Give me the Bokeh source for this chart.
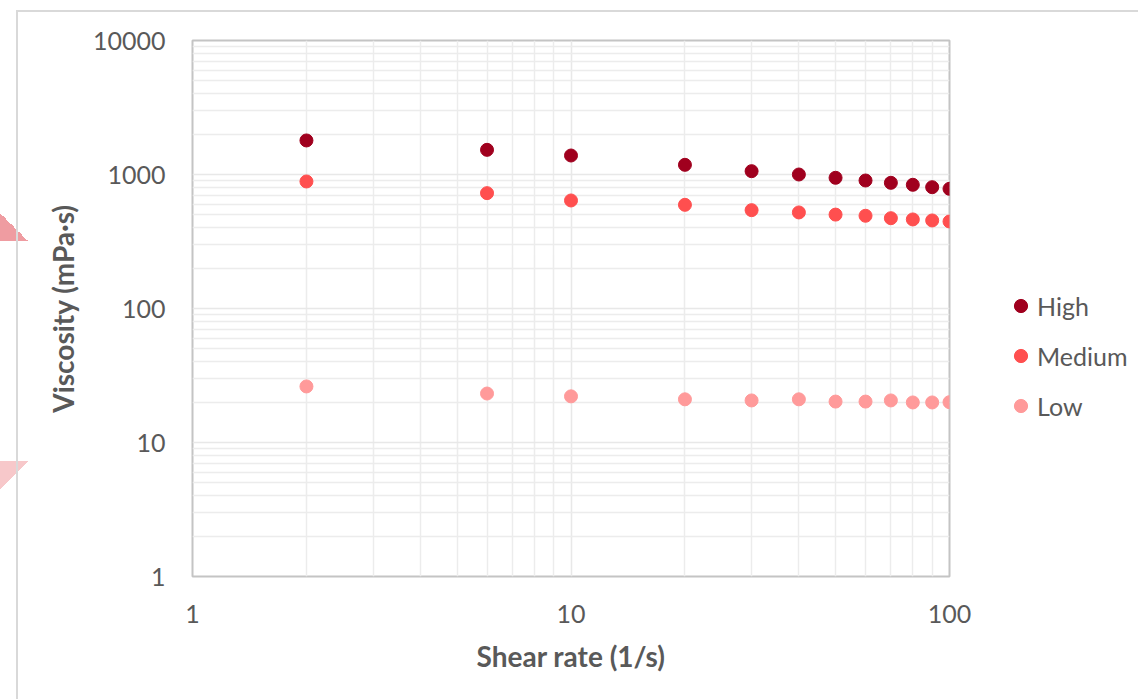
from bokeh.plotting import figure
from bokeh.layouts import row
from bokeh.models import (Range1d, FixedTicker, PrintfTickFormatter, Legend, LegendItem,
                          ColumnDataSource)
from bokeh.embed import file_html
from bokeh.resources import INLINE

shear_rate = [2, 6, 10, 20, 30, 40, 50, 60, 70, 80, 90, 100]
high = [1795, 1528, 1386, 1181, 1059, 1000, 945, 902, 867, 838, 804, 782]
medium = [887, 726, 640, 594, 542, 521, 502, 492, 472, 462, 454, 446]
low = [26.2, 23.2, 22.1, 21.0, 20.6, 21.0, 20.2, 20.2, 20.6, 19.9, 19.9, 20.0]
series_names = ["High", "Medium", "Low"]
series_colors = ["#A0001E", "#FF4F4F", "#FF9A9A"]
y_major = [1, 10, 100, 1000, 10000]
x_major = [1, 10, 100]

TXT = "#595959"
FONT = "Lato"
H = 699

deco_main = {
    "background-image": ", ".join([
        "linear-gradient(#d9d9d9, #d9d9d9)",
        "linear-gradient(#d9d9d9, #d9d9d9)",
        "linear-gradient(to bottom left, rgba(255,255,255,0) 50%, #ef9ca1 50%)",
        "linear-gradient(to top left, rgba(255,255,255,0) 50%, #f7c8ca 50%)",
    ]),
    "background-size": "2px 700px, 1200px 2px, 28px 28px, 28px 29px",
    "background-position": "16px 10px, 16px 10px, 0px 213px, 0px 461px",
    "background-repeat": "no-repeat",
    "background-color": "white",
}
deco_leg = {
    "background-image": "linear-gradient(#d9d9d9, #d9d9d9)",
    "background-size": "400px 2px",
    "background-position": "0px 10px",
    "background-repeat": "no-repeat",
    "background-color": "white",
}

p = figure(width=980, height=H, x_axis_type="log", y_axis_type="log",
           x_range=Range1d(1, 100), y_range=Range1d(1, 10000),
           output_backend="svg", toolbar_location=None,
           min_border_left=192, min_border_right=31, min_border_top=40, min_border_bottom=123,
           styles=deco_main)

p.outline_line_color = "#c4c4c4"
p.outline_line_width = 2
p.background_fill_color = "white"
p.border_fill_alpha = 0

x_minor = [m * d for d in (1, 10) for m in range(2, 10)]
y_minor = [m * d for d in (1, 10, 100, 1000) for m in range(2, 10)]
p.xaxis.ticker = FixedTicker(ticks=x_major, minor_ticks=x_minor)
p.yaxis.ticker = FixedTicker(ticks=y_major, minor_ticks=y_minor)
for ax in (p.xaxis, p.yaxis):
    ax.formatter = PrintfTickFormatter(format="%d")
    ax.axis_line_color = None
    ax.major_tick_line_color = None
    ax.minor_tick_line_color = None
    ax.major_label_text_font = FONT
    ax.major_label_text_font_size = "25px"
    ax.major_label_text_color = TXT
    ax.axis_label_text_font = FONT
    ax.axis_label_text_font_size = "28px"
    ax.axis_label_text_font_style = "bold"
    ax.axis_label_text_color = TXT
p.xaxis.major_label_standoff = 22
p.yaxis.major_label_standoff = 21
p.xaxis.axis_label = "Shear rate (1/s)"
p.yaxis.axis_label = "Viscosity (mPa·s)"
p.xaxis.axis_label_standoff = 13
p.yaxis.axis_label_standoff = 10

for g in (p.xgrid, p.ygrid):
    g.grid_line_color = "#e8e8e8"
    g.grid_line_width = 1.5
    g.minor_grid_line_color = "#ececec"
    g.minor_grid_line_width = 1.5

for name, vals, col in zip(series_names, [high, medium, low], series_colors):
    src = ColumnDataSource(dict(x=shear_rate, y=vals))
    p.scatter("x", "y", source=src, size=13, fill_color=col, line_color=col)

# legend panel (separate figure to the right of the chart)
q = figure(width=1138 - 980, height=H, x_range=Range1d(0, 1), y_range=Range1d(0, 1),
           output_backend="svg", toolbar_location=None,
           x_axis_location=None, y_axis_location=None,
           min_border_left=0, min_border_right=0, min_border_top=0, min_border_bottom=0,
           styles=deco_leg)
q.outline_line_color = None
q.xgrid.visible = False
q.ygrid.visible = False
q.background_fill_alpha = 0
q.border_fill_alpha = 0

leg_renderers = []
for name, col in zip(series_names, series_colors):
    # single off-range point: not drawn in the frame, but gives the legend its marker
    r = q.scatter("x", "y", source=ColumnDataSource(dict(x=[-10], y=[-10])), size=13,
                  fill_color=col, line_color=col)
    leg_renderers.append(r)

legend = Legend(items=[LegendItem(label=n, renderers=[r]) for n, r in zip(series_names, leg_renderers)],
                location=(24, 154), orientation="vertical")
legend.background_fill_alpha = 0
legend.border_line_color = None
legend.padding = 0
legend.margin = 0
legend.spacing = 17
legend.glyph_width = 33
legend.glyph_height = 33
legend.label_standoff = 0
legend.label_text_font = FONT
legend.label_text_font_size = "25px"
legend.label_text_color = TXT
legend.label_height = 33
q.add_layout(legend, "center")

layout = row(p, q, spacing=0)
open("out.html", "w").write(file_html(layout, INLINE))
